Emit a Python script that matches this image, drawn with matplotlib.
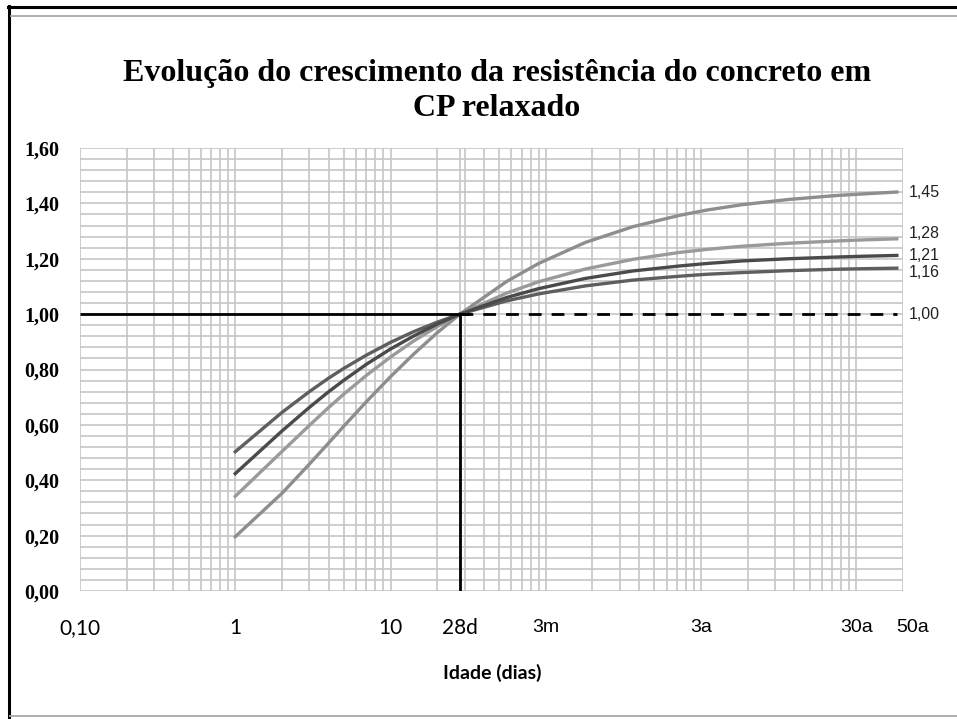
import matplotlib

matplotlib.use("Agg")
import matplotlib.pyplot as plt
import matplotlib.transforms as mtransforms
from matplotlib.lines import Line2D
from matplotlib.ticker import LogLocator, MultipleLocator, NullFormatter, FixedLocator
import numpy as np

# idade em dias
days = [1, 2, 3, 4, 5, 7, 10, 14, 20, 28, 56, 90, 180, 365, 730, 1095, 1825, 3650,
        7300, 10950, 18250]

# curvas (relacao fc(t)/fc28)
curve_145 = [0.196, 0.353, 0.458, 0.535, 0.595, 0.684, 0.774, 0.854, 0.933, 1.00, 1.118,
             1.183, 1.259, 1.316, 1.357, 1.376, 1.395, 1.414, 1.428, 1.434, 1.441]
curve_128 = [0.342, 0.504, 0.598, 0.663, 0.711, 0.779, 0.845, 0.902, 0.955, 1.00, 1.076,
             1.117, 1.163, 1.198, 1.223, 1.234, 1.245, 1.256, 1.264, 1.268, 1.272]
curve_121 = [0.424, 0.578, 0.663, 0.720, 0.761, 0.819, 0.874, 0.920, 0.964, 1.00, 1.060,
             1.092, 1.129, 1.156, 1.174, 1.183, 1.192, 1.200, 1.206, 1.209, 1.212]
curve_116 = [0.503, 0.645, 0.720, 0.769, 0.804, 0.852, 0.898, 0.936, 0.971, 1.00, 1.048,
             1.073, 1.102, 1.123, 1.137, 1.144, 1.150, 1.157, 1.162, 1.164, 1.166]

end_labels = ["1,45", "1,28", "1,21", "1,16", "1,00"]
end_label_y = [1.44, 1.29, 1.21, 1.15, 1.00]

xtick_pos = [0.1, 1, 10, 28, 100, 1000, 10000]
xtick_labels = ["0,10", "1", "10", "28d", "3m", "3a", "30a"]
ytick_pos = [0.0, 0.2, 0.4, 0.6, 0.8, 1.0, 1.2, 1.4, 1.6]
ytick_labels = ["0,00", "0,20", "0,40", "0,60", "0,80", "1,00", "1,20", "1,40", "1,60"]

W, H = 957, 719
fig = plt.figure(figsize=(W / 100, H / 100), dpi=100)
fig.patch.set_facecolor("white")
ax = fig.add_axes([80 / W, (H - 591) / H, (903 - 80) / W, (591 - 148) / H])

ax.set_xscale("log")
ax.set_xlim(0.1, 20000)
ax.set_ylim(0, 1.6)

ax.xaxis.set_major_locator(FixedLocator(xtick_pos))
ax.xaxis.set_minor_locator(LogLocator(base=10, subs=np.arange(1, 10), numticks=100))
ax.xaxis.set_minor_formatter(NullFormatter())
ax.set_xticklabels([])
ax.yaxis.set_major_locator(FixedLocator(ytick_pos))
ax.yaxis.set_minor_locator(MultipleLocator(0.04))
ax.set_yticklabels(ytick_labels)

ax.grid(which="both", color="#c6c6c6", lw=1.2)
ax.set_axisbelow(True)
for sp in ax.spines.values():
    sp.set_visible(False)
ax.tick_params(which="both", length=0)
ax.tick_params(axis="y", pad=15, labelsize=14.5)
for lbl in ax.get_yticklabels():
    lbl.set_fontfamily("Liberation Serif")
    lbl.set_fontweight("bold")

# rotulos do eixo x (numeros em Calibri, idades em Arial no original)
trans_b = mtransforms.blended_transform_factory(ax.transData, ax.transAxes)
label_y = -(628 - 591) / 443
for i, (xp, txt) in enumerate(zip(xtick_pos, xtick_labels)):
    fam = "Lato" if i < 4 else "Liberation Sans"
    size = 15 if i < 4 else 14
    ax.text(xp, label_y, txt, transform=trans_b, ha="center", va="center",
            fontsize=size, family=fam, clip_on=False)
ax.text(1.0117, label_y, "50a", transform=ax.transAxes, ha="center",
        va="center", fontsize=14, family="Liberation Sans", clip_on=False)

ax.plot(days, curve_145, color="#8e8e8e", lw=2.4, zorder=3)
ax.plot(days, curve_128, color="#9a9a9a", lw=2.4, zorder=3)
ax.plot(days, curve_116, color="#5e5e5e", lw=2.4, zorder=4)
ax.plot(days, curve_121, color="#4a4a4a", lw=2.4, zorder=4)

# linhas de referencia em 28 dias
ax.plot([0.1, 32], [1.0, 1.0], color="black", lw=2.0, zorder=5, solid_capstyle="butt")
ax.plot([28, 28], [0.0, 1.0], color="black", lw=2.0, zorder=5, solid_capstyle="butt")
ax.plot([28, 18250], [1.0, 1.0], color="black", lw=2.0, dashes=(4.6, 3.6), zorder=5)

trans_r = mtransforms.blended_transform_factory(ax.transAxes, ax.transData)
for txt, yv in zip(end_labels, end_label_y):
    ax.text(1.007, yv, txt, transform=trans_r, ha="left", va="center",
            fontsize=11.5, family="Liberation Sans", color="#222222", clip_on=False)

ax.text(0.5006, -(673 - 591) / 443, "Idade (dias)", transform=ax.transAxes, ha="center",
        va="center", fontsize=14, family="Lato", fontweight="bold", clip_on=False)

fig.text(497 / W, 1 - 91 / H, "Evolução do crescimento da resistência do concreto em\nCP relaxado",
         ha="center", va="center", fontsize=23, family="Liberation Serif",
         fontweight="bold", linespacing=1.25)

# moldura
def px_line(x0, y0, x1, y1, color, lw):
    fig.add_artist(Line2D([x0 / W, x1 / W], [1 - y0 / H, 1 - y1 / H],
                          transform=fig.transFigure, color=color, lw=lw))

px_line(8, 7, W, 7, "black", 2.2)
px_line(9, 6, 9, 717, "black", 2.2)
px_line(11, 16, W, 16, "#a8a8a8", 1.3)
px_line(10, 716, W, 716, "#a8a8a8", 1.3)

fig.savefig("out.png", dpi=100)
